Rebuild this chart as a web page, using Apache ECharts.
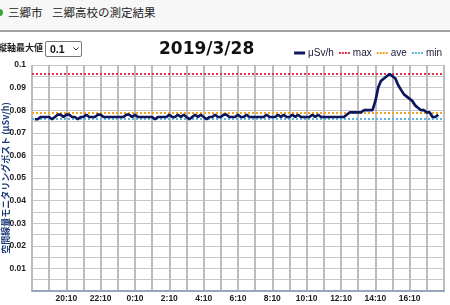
<!DOCTYPE html>
<html><head><meta charset="utf-8">
<script src="https://cdn.jsdelivr.net/npm/echarts@6/dist/echarts.min.js"></script>
<style>
html,body{margin:0;padding:0;width:450px;height:305px;overflow:hidden;background:#fff;font-family:"Noto Sans CJK JP",sans-serif;}
#head{position:absolute;left:0;top:0;width:450px;height:30px;background:#f7f7f7;border-bottom:2px solid #a0a0a0;}
#dot{position:absolute;left:-4px;top:9px;width:7px;height:7px;border-radius:50%;background:#3aa53a;}
.ht{position:absolute;top:4px;font-size:11.5px;color:#222;line-height:16px;white-space:nowrap;}
#lbl{position:absolute;left:-2px;top:42px;font-size:9px;font-weight:bold;color:#222;line-height:12px;white-space:nowrap;}
#sel{position:absolute;left:45px;top:41px;width:35px;height:14px;border:1px solid #777;border-radius:2px;background:#fff;}
#sel span{position:absolute;left:4px;top:0px;font:bold 10.5px "Liberation Sans",Arial,sans-serif;line-height:14px;color:#111;}
#sel svg{position:absolute;left:27px;top:5px;}
#chart{position:absolute;left:0;top:0;width:450px;height:305px;}
</style></head>
<body>
<div id="head"><div id="dot"></div><span class="ht" style="left:8px">三郷市</span><span class="ht" style="left:52px">三郷高校の測定結果</span></div>
<div id="chart"></div>
<div id="lbl">縦軸最大値</div>
<div id="sel"><span>0.1</span><svg width="6" height="4" viewBox="0 0 6 4"><path d="M0.5 0.5 L3 3 L5.5 0.5" fill="none" stroke="#333" stroke-width="1"/></svg></div>
<script>
// ---- data ----
const chartTitle = '2019/3/28';
const yAxisName = '空間線量モニタリングポスト (μSv/h)';
const startMinutes = 18 * 60 + 10;   // 18:10 on 3/27
const stepMinutes = 10;
const categoryCount = 145;
const categories = [];
for (let i = 0; i < categoryCount; i++) {
  const m = startMinutes + i * stepMinutes;
  categories.push(Math.floor(m / 60) % 24 + ':' + String(m % 60).padStart(2, '0'));
}
const xTickLabels = ['20:10','22:10','0:10','2:10','4:10','6:10','8:10','10:10','12:10','14:10','16:10'];
const doseValues = [null,
  0.076,0.076,0.077,0.077,0.077,0.077,0.076,0.077,0.078,0.078,
  0.077,0.078,0.078,0.077,0.077,0.076,0.077,0.077,0.078,0.077,
  0.077,0.077,0.078,0.078,0.077,0.077,0.077,0.077,0.077,0.077,
  0.077,0.077,0.078,0.078,0.077,0.078,0.077,0.077,0.077,0.077,
  0.077,0.077,0.076,0.077,0.077,0.077,0.077,0.078,0.077,0.077,
  0.078,0.077,0.078,0.077,0.076,0.077,0.078,0.077,0.078,0.077,
  0.076,0.077,0.077,0.078,0.077,0.077,0.078,0.078,0.077,0.077,
  0.077,0.078,0.077,0.077,0.078,0.077,0.077,0.077,0.077,0.077,
  0.077,0.078,0.077,0.077,0.077,0.078,0.077,0.078,0.077,0.077,
  0.078,0.077,0.078,0.077,0.077,0.077,0.077,0.078,0.077,0.078,
  0.077,0.077,0.077,0.077,0.077,0.077,0.077,0.077,0.077,0.078,
  0.079,0.079,0.079,0.079,0.079,0.080,0.080,0.080,0.080,0.084,
  0.090,0.093,0.094,0.095,0.096,0.095,0.094,0.091,0.089,0.087,
  0.086,0.085,0.084,0.082,0.081,0.080,0.080,0.079,0.079,0.077,
  0.077,0.078,
  null,null];
const maxValue = 0.096;
const aveValue = 0.079;
const minValue = 0.076;
const seriesNames = ['μSv/h','max','ave','min'];
const seriesColors = ['#0c165e','#e0304c','#f2a51f','#62b6d8'];
const yMin = 0, yMax = 0.1, yStep = 0.005;

// ---- chart ----
const chart = echarts.init(document.getElementById('chart'), null, {renderer: 'canvas'});
const lblFont = {fontFamily: '"Liberation Sans", Arial, sans-serif', fontWeight: 'bold', fontSize: 8.5, color: '#222'};
const solidIcon = 'path://M0,0h11v3h-11z';
const dotIcon = 'path://M0,0h2v2h-2zM3,0h2v2h-2zM6,0h2v2h-2zM9,0h2v2h-2z';
function refSeries(i) {
  return {name: seriesNames[i], type: 'line', data: [], symbol: 'none',
    lineStyle: {color: seriesColors[i], width: 2, type: 'dotted'}, itemStyle: {color: seriesColors[i]}};
}
function refLine(value, i) {
  return {yAxis: value, lineStyle: {color: seriesColors[i], width: 2, type: 'dotted'}};
}
chart.setOption({
  backgroundColor: 'transparent',
  animation: false,
  title: {text: chartTitle, left: 159, top: 41, padding: 0,
    textStyle: {fontFamily: '"DejaVu Sans", Verdana, sans-serif', fontWeight: 'bold', fontSize: 17, color: '#111'}},
  legend: {right: 8, top: 48, padding: 0, itemWidth: 11, itemHeight: 10, itemGap: 5,
    lineStyle: {opacity: 0},
    textStyle: {fontFamily: '"Liberation Sans", Arial, sans-serif', fontSize: 10, color: '#1a1a3a', padding: [0,0,0,-2]},
    data: seriesNames.map((n, i) => ({name: n, icon: i === 0 ? solidIcon : dotIcon, itemStyle: {color: seriesColors[i]}}))},
  grid: {left: 32, right: 6, top: 65, bottom: 14, containLabel: false, outerBoundsMode: 'none'},
  xAxis: {
    type: 'category', data: categories, boundaryGap: false,
    axisLine: {show: true, lineStyle: {color: '#98a6ba', width: 2}},
    axisTick: {show: false},
    axisLabel: Object.assign({interval: (i, v) => xTickLabels.includes(v), margin: 3}, lblFont),
    splitLine: {show: true, interval: (i) => i % 6 === 0, lineStyle: {color: '#bcbcbc', width: 2}}
  },
  yAxis: {
    type: 'value', min: yMin, max: yMax, interval: yStep,
    name: yAxisName, nameLocation: 'middle', nameGap: 22, nameRotate: 90, nameMoveOverlap: false,
    nameTextStyle: {fontFamily: '"Noto Sans CJK JP", sans-serif', fontWeight: 'bold', fontSize: 9, color: '#1e3c78'},
    axisLine: {show: false}, axisTick: {show: false},
    axisLabel: Object.assign({margin: 6, formatter: (v) => {
      const k = Math.round(v * 1000);
      return (k > 0 && k % 10 === 0) ? String(parseFloat(v.toFixed(3))) : '';
    }}, lblFont),
    splitLine: {show: true, lineStyle: {color: '#c8c8c8', width: 1}}
  },
  series: [
    {name: seriesNames[0], type: 'line', data: doseValues, symbol: 'none', z: 5,
      connectNulls: false,
      lineStyle: {color: seriesColors[0], width: 2.7}, itemStyle: {color: seriesColors[0]},
      markLine: {silent: true, symbol: 'none', label: {show: false}, precision: 5,
        data: [refLine(maxValue, 1), refLine(aveValue, 2), refLine(minValue, 3)]}},
    refSeries(1), refSeries(2), refSeries(3)
  ]
});
</script>
</body></html>
